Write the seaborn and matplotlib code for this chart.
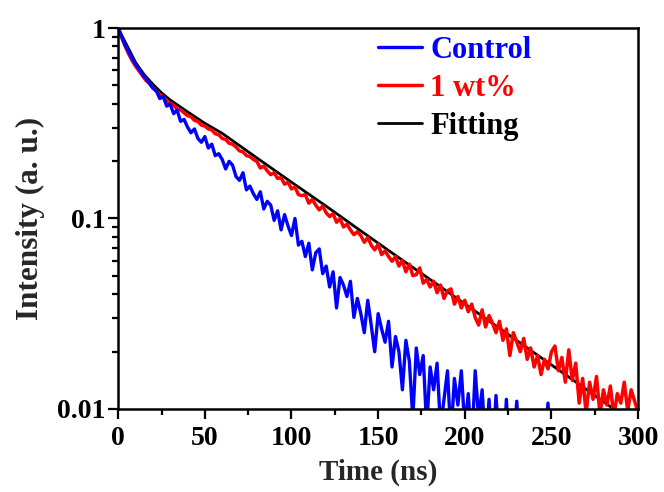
import matplotlib
matplotlib.use("Agg")
import matplotlib.pyplot as plt
import numpy as np
import seaborn as sns
from matplotlib.ticker import MultipleLocator, NullFormatter

# TIME AXIS OF THE DECAYS (ns, ONE SAMPLE EVERY 2 ns)
red_time = np.arange(0, 301, 2)
blue_time = np.arange(0, 251, 2)

# INTENSITIES, IN DECADES (log10 OF INTENSITY)
red_log = [
    0.0, -0.05, -0.095, -0.135, -0.17, -0.2, -0.225, -0.25, -0.275, -0.29,
    -0.315, -0.33, -0.35, -0.36, -0.385, -0.395, -0.405, -0.425, -0.43, -0.445,
    -0.46, -0.465, -0.485, -0.49, -0.51, -0.515, -0.53, -0.535, -0.555, -0.56,
    -0.58, -0.585, -0.605, -0.61, -0.625, -0.645, -0.65, -0.67, -0.675, -0.69,
    -0.70, -0.735, -0.725, -0.75, -0.77, -0.76, -0.79, -0.785, -0.82, -0.81,
    -0.845, -0.835, -0.875, -0.88, -0.875, -0.92, -0.9, -0.93, -0.955, -0.935,
    -0.97, -0.99, -0.975, -1.02, -1.0, -1.045, -1.03, -1.06, -1.085, -1.07,
    -1.09, -1.125, -1.1, -1.14, -1.165, -1.135, -1.19, -1.17, -1.2, -1.225,
    -1.2, -1.25, -1.22, -1.28, -1.24, -1.3, -1.295, -1.26, -1.34, -1.32,
    -1.36, -1.33, -1.39, -1.35, -1.42, -1.38, -1.37, -1.45, -1.41, -1.47,
    -1.43, -1.49, -1.45, -1.52, -1.56, -1.48, -1.57, -1.51, -1.55, -1.6,
    -1.54, -1.64, -1.58, -1.72, -1.6, -1.65, -1.7, -1.63, -1.74, -1.68,
    -1.78, -1.72, -1.82, -1.74, -1.79, -1.7, -1.67, -1.8, -1.73, -1.86,
    -1.69, -1.85, -1.76, -1.97, -1.84, -2.02, -1.86, -1.95, -1.83, -2.03,
    -1.9, -1.98, -1.88, -2.04, -1.92, -1.97, -1.86, -2.01, -1.9, -1.96,
    -2.02,
]

blue_log = [
    0.0, -0.045, -0.09, -0.125, -0.16, -0.19, -0.215, -0.245, -0.265, -0.29,
    -0.315, -0.33, -0.37, -0.36, -0.41, -0.4, -0.45, -0.43, -0.49, -0.48,
    -0.52, -0.55, -0.53, -0.58, -0.6, -0.57, -0.63, -0.61, -0.67, -0.66,
    -0.69, -0.74, -0.7, -0.72, -0.78, -0.8, -0.76, -0.85, -0.83, -0.87,
    -0.9, -0.86, -0.95, -0.91, -0.93, -1.01, -0.96, -1.06, -0.98, -1.04,
    -1.09, -1.0, -1.14, -1.12, -1.2, -1.13, -1.27, -1.18, -1.16, -1.29,
    -1.25, -1.36, -1.28, -1.47, -1.31, -1.35, -1.41, -1.33, -1.52, -1.42,
    -1.5, -1.6, -1.43, -1.56, -1.7, -1.5, -1.58, -1.65, -1.54, -1.78,
    -1.62, -1.7, -1.9, -1.64, -1.75, -2.05, -1.68, -1.82, -1.72, -2.1,
    -1.78, -1.9, -1.76, -2.1, -1.95, -1.8, -2.15, -1.84, -1.98, -1.8,
    -2.1, -1.92, -2.2, -1.8, -2.05, -1.9, -2.2, -1.95, -2.25, -1.93,
    -2.2, -2.3, -1.95, -2.3, -2.2, -1.96, -2.3, -2.25, -2.3, -2.2,
    -2.3, -2.25, -2.3, -2.2, -1.97,
    -2.3,
]

# FITTED CURVE FOR THE 1 wt% SAMPLE
fit_time = [0, 3, 6, 10, 15, 20, 25, 30, 40, 50, 60, 80, 100, 120, 140,
            160, 180, 200, 220, 240, 260, 280, 290]
fit_intensity = [1.0, 0.88, 0.78, 0.66, 0.569, 0.507, 0.457, 0.419, 0.363,
                 0.316, 0.280, 0.208, 0.155, 0.116, 0.086, 0.064, 0.0478,
                 0.0356, 0.0265, 0.0197, 0.0147, 0.0109, 0.0094]

labels = ['Control', '1 wt%', 'Fitting']
colors = ['blue', 'red', 'black']

#STYLE AND FONTS (SET AFTER SEABORN)
sns.set_style("ticks")
plt.rcParams['font.family'] = ['Liberation Serif', 'DejaVu Serif']
plt.rcParams['font.weight'] = 'bold'

fig = plt.figure(figsize=(6.64, 4.92), dpi=100)
ax = fig.add_axes([0.178, 0.169, 0.783, 0.774])

#DRAW FIT FIRST, DATA ON TOP
sns.lineplot(x=fit_time, y=fit_intensity, ax=ax, color='black', lw=2)
sns.lineplot(x=red_time, y=10 ** np.array(red_log), ax=ax, color='red', lw=2.5)
sns.lineplot(x=blue_time, y=10 ** np.array(blue_log), ax=ax, color='blue', lw=2.4)

ax.set_yscale('log')
ax.set_xlim(0, 300)
ax.set_ylim(0.01, 1)
ax.set_yticks([0.01, 0.1, 1])
ax.set_yticklabels(['0.01', '0.1', '1'])
ax.yaxis.set_minor_formatter(NullFormatter())
ax.xaxis.set_major_locator(MultipleLocator(50))
ax.xaxis.set_minor_locator(MultipleLocator(25))

ax.tick_params(which='both', direction='out', width=1.6, colors='black',
               labelsize=20, top=False, right=False)
ax.tick_params(which='major', length=7)
ax.tick_params(which='minor', length=4)
ax.tick_params(axis='x', which='both', pad=5)
ax.tick_params(axis='y', which='both', pad=2)
for side in ax.spines.values():
    side.set_linewidth(1.8)
    side.set_color('black')

ax.set_xlabel('Time (ns)', fontsize=21, fontweight='bold', labelpad=6)
ax.set_ylabel('Intensity (a. u.)', fontsize=22.5, fontweight='bold', labelpad=9)

#LEGEND IN THE ORDER OF THE REFERENCE, TEXT COLOURED LIKE THE LINES
lines = ax.get_lines()
leg = ax.legend(handles=[lines[2], lines[1], lines[0]], labels=labels,
                loc='upper left', bbox_to_anchor=(0.5, 0.98), frameon=False,
                handlelength=1.45, handletextpad=0.25, labelspacing=0.3,
                borderpad=0, borderaxespad=0,
                prop={'size': 22, 'weight': 'bold'})
for txt, col in zip(leg.get_texts(), colors):
    txt.set_color(col)

fig.savefig('out.png', dpi=100)
